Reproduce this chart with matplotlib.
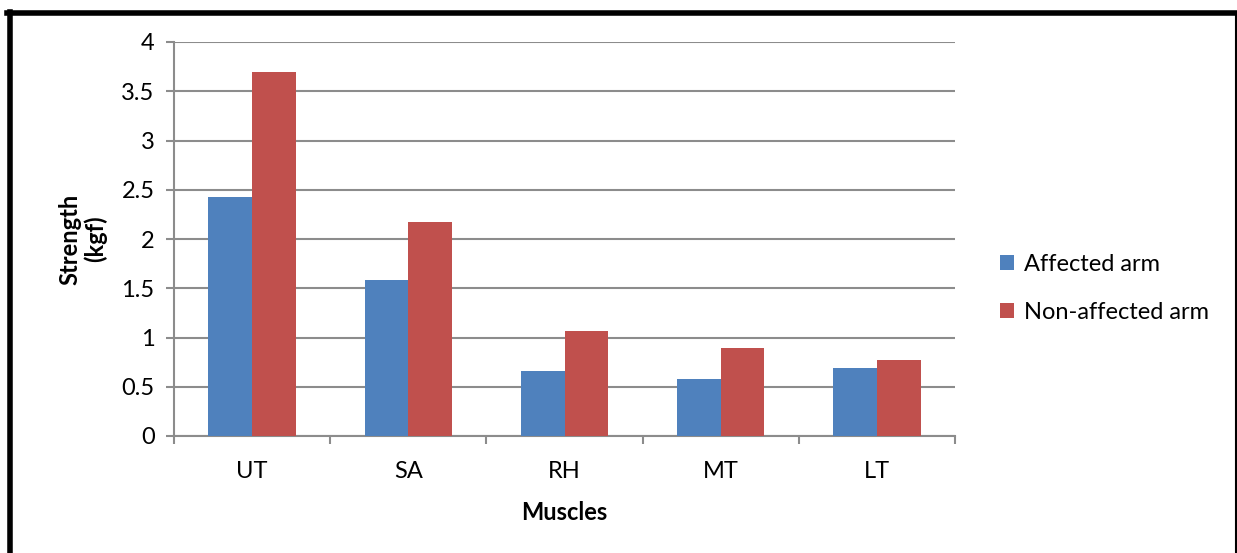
import matplotlib
import numpy as np

matplotlib.use("Agg")
import matplotlib.pyplot as plt
from matplotlib.lines import Line2D

muscles = ["UT", "SA", "RH", "MT", "LT"]
affected = [2.43, 1.58, 0.66, 0.58, 0.69]
non_affected = [3.70, 2.17, 1.07, 0.89, 0.77]
series_names = ["Affected arm", "Non-affected arm"]
y_ticks = [0, 0.5, 1, 1.5, 2, 2.5, 3, 3.5, 4]

plt.rcParams["font.family"] = ["Lato", "DejaVu Sans"]
grid_color = "#8c8c8c"
font_size = 17

fig = plt.figure(figsize=(12.37, 5.53), dpi=100)
axis = fig.add_axes([174 / 1237, 1 - 436 / 553, (955 - 174) / 1237, (436 - 42) / 553])

x = np.arange(len(muscles))
width = 0.28
axis.bar(x - width / 2, affected, width, color="#4F81BD", label=series_names[0], zorder=3)
axis.bar(x + width / 2, non_affected, width, color="#C0504D", label=series_names[1], zorder=3)

axis.set_xlim(-0.5, len(muscles) - 0.5)
axis.set_ylim(0, 4)
axis.set_yticks(y_ticks)
axis.set_yticklabels([f"{v:g}" for v in y_ticks], fontsize=font_size)
axis.set_xticks(x)
axis.set_xticklabels(muscles, fontsize=font_size)
axis.set_xticks(np.arange(len(muscles) + 1) - 0.5, minor=True)
axis.tick_params(axis="x", which="major", length=0, pad=18)
axis.tick_params(axis="x", which="minor", length=6, width=1.5, color=grid_color)
axis.tick_params(axis="y", length=6, width=1.5, color=grid_color, pad=8)

axis.grid(axis="y", color=grid_color, linewidth=1.5, zorder=0)
for side in ("top", "right"):
    axis.spines[side].set_visible(False)
for side in ("left", "bottom"):
    axis.spines[side].set_color(grid_color)
    axis.spines[side].set_linewidth(1.5)

axis.set_xlabel("Muscles", fontsize=font_size, fontweight="bold", labelpad=14)
axis.set_ylabel("Strength\n(kgf)", fontsize=font_size, fontweight="bold", labelpad=10, linespacing=1.1)

axis.legend(
    loc="center left",
    bbox_to_anchor=(1.03, 0.375),
    frameon=False,
    fontsize=font_size,
    handlelength=0.6,
    handleheight=0.6,
    handletextpad=0.45,
    labelspacing=1.15,
)

# outer frame like the pasted chart border
fig.add_artist(Line2D([9.5 / 1237, 9.5 / 1237], [0, 1 - 12 / 553], transform=fig.transFigure, color="black", linewidth=4))
fig.add_artist(Line2D([7.5 / 1237, 1236 / 1237], [1 - 12.5 / 553, 1 - 12.5 / 553], transform=fig.transFigure, color="black", linewidth=4))
fig.add_artist(Line2D([1235.5 / 1237, 1235.5 / 1237], [0, 1 - 12 / 553], transform=fig.transFigure, color="black", linewidth=1.5))

fig.savefig("out.png", dpi=100)
plt.close(fig)
